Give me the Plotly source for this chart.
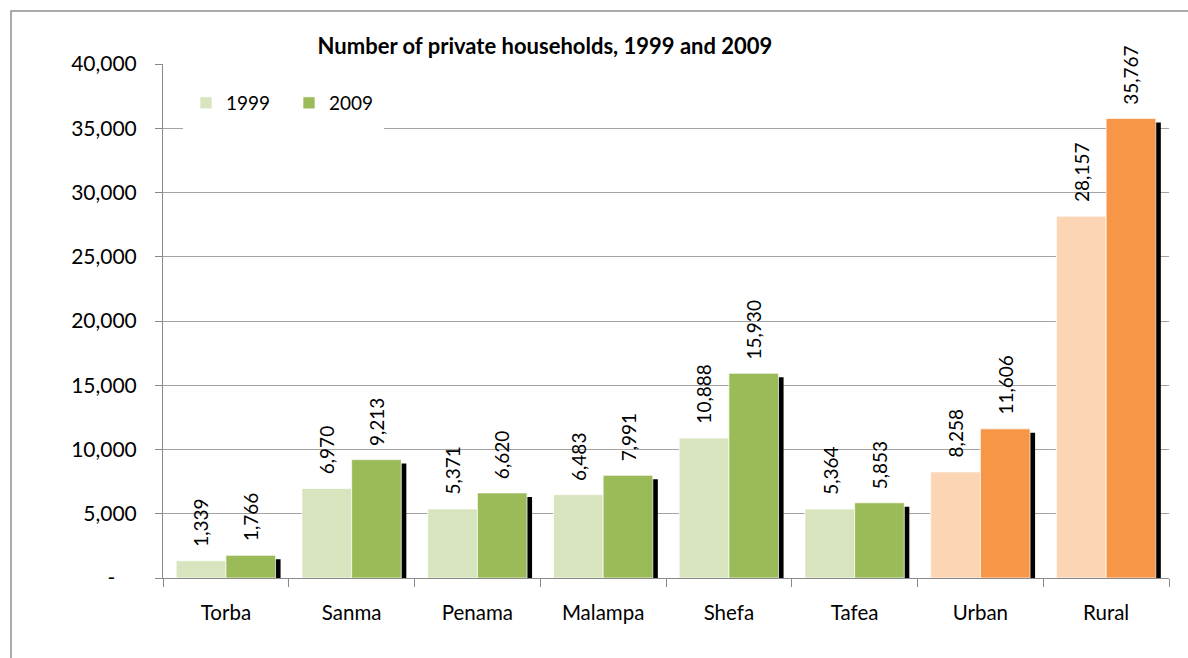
import plotly.graph_objects as go

# -------------------------------------------------------------------------
# Data
# -------------------------------------------------------------------------

categories = ["Torba", "Sanma", "Penama", "Malampa", "Shefa", "Tafea", "Urban", "Rural"]
households_1999 = [1339, 6970, 5371, 6483, 10888, 5364, 8258, 28157]
households_2009 = [1766, 9213, 6620, 7991, 15930, 5853, 11606, 35767]
is_area = [False, False, False, False, False, False, True, True]

y_tickvals = [0, 5000, 10000, 15000, 20000, 25000, 30000, 35000, 40000]
y_ticktext = ["-\u00a0\u00a0\u00a0\u00a0"] + [f"{v:,}" for v in y_tickvals[1:]]

# -------------------------------------------------------------------------
# Style
# -------------------------------------------------------------------------

W, H = 1188, 658
M_L, M_R, M_T, M_B = 163, 19, 64, 80
PLOT_W = W - M_L - M_R
PLOT_H = H - M_T - M_B
YMAX = 40000

FONT = "Lato, 'Open Sans', sans-serif"
GREEN_LIGHT, GREEN = "#d7e4bd", "#9bbb59"
ORANGE_LIGHT, ORANGE = "#fcd5b5", "#f79646"
GRID = "#a3a3a3"
AXIS = "#8a8a8a"

BAR_W = 0.395
SHADOW_DX = 0.04
SHADOW_PX = 4
shadow_drop = SHADOW_PX * YMAX / PLOT_H

colors_1999 = [ORANGE_LIGHT if a else GREEN_LIGHT for a in is_area]
colors_2009 = [ORANGE if a else GREEN for a in is_area]
bar_edge = dict(color="rgba(255,255,255,0.7)", width=1)

fig = go.Figure()

# drop shadow behind the 2009 bars
fig.add_trace(go.Bar(
    x=categories,
    y=[v - shadow_drop for v in households_2009],
    offset=SHADOW_DX,
    width=BAR_W,
    marker=dict(color="black", line=dict(width=0)),
    showlegend=False,
    hoverinfo="skip",
))

fig.add_trace(go.Bar(
    name="1999",
    x=categories,
    y=households_1999,
    offset=-BAR_W,
    width=BAR_W,
    marker=dict(color=colors_1999, line=bar_edge),
))

fig.add_trace(go.Bar(
    name="2009",
    x=categories,
    y=households_2009,
    offset=0,
    width=BAR_W,
    marker=dict(color=colors_2009, line=bar_edge),
))

# rotated value labels
for i, (a, b) in enumerate(zip(households_1999, households_2009)):
    for val, xpos in ((a, i - BAR_W / 2), (b, i + BAR_W / 2)):
        fig.add_annotation(
            x=xpos, y=val, xref="x", yref="y",
            text=f"{val:,}", textangle=-90,
            showarrow=False, xanchor="center", yanchor="bottom",
            yshift=12,
            font=dict(family=FONT, size=19, color="black"),
        )

# white patch behind the legend (hides the gridline)
fig.add_shape(
    type="rect", xref="paper", yref="paper", layer="above",
    x0=(183 - M_L) / PLOT_W, x1=(384 - M_L) / PLOT_W,
    y0=(H - M_B - 134) / PLOT_H, y1=(H - M_B - 78) / PLOT_H,
    fillcolor="white", line=dict(width=0),
)

# outer chart border
fig.add_shape(
    type="rect", xref="paper", yref="paper", layer="below",
    x0=(11 - M_L) / PLOT_W, x1=1.1,
    y0=-0.3, y1=(H - M_B - 11) / PLOT_H,
    fillcolor="rgba(0,0,0,0)", line=dict(color="#8f8f8f", width=1.5),
)

fig.update_layout(
    width=W,
    height=H,
    margin=dict(l=M_L, r=M_R, t=M_T, b=M_B),
    barmode="overlay",
    plot_bgcolor="white",
    paper_bgcolor="white",
    font=dict(family=FONT, color="black"),
    title=dict(
        text="<b>Number of private households, 1999 and 2009</b>",
        x=545 / W, xref="container", xanchor="center",
        y=1 - 46 / H, yref="container", yanchor="middle",
        font=dict(family=FONT, size=22, color="black"),
    ),
    legend=dict(
        orientation="h",
        x=(186 - M_L) / PLOT_W, xanchor="left",
        y=(H - M_B - 84) / PLOT_H, yanchor="top",
        bgcolor="rgba(0,0,0,0)",
        font=dict(family=FONT, size=19, color="black"),
        entrywidth=58, entrywidthmode="pixels",
        traceorder="normal",
    ),
    xaxis=dict(
        showgrid=False,
        showline=True, linecolor=AXIS, linewidth=1,
        ticks="outside", tickson="boundaries", ticklen=8, tickcolor=AXIS,
        ticklabelstandoff=16,
        tickfont=dict(family=FONT, size=20.5, color="black"),
    ),
    yaxis=dict(
        range=[0, YMAX],
        tickvals=y_tickvals, ticktext=y_ticktext,
        showgrid=True, gridcolor=GRID, gridwidth=1,
        showline=True, linecolor=AXIS, linewidth=1,
        ticks="outside", ticklen=7, tickcolor=AXIS,
        ticklabelstandoff=14,
        tickfont=dict(family=FONT, size=21, color="black"),
        zeroline=False,
    ),
)

fig.write_html(
    "out.html",
    config={"displayModeBar": False},
    post_script="document.body.style.margin='0';",
)
